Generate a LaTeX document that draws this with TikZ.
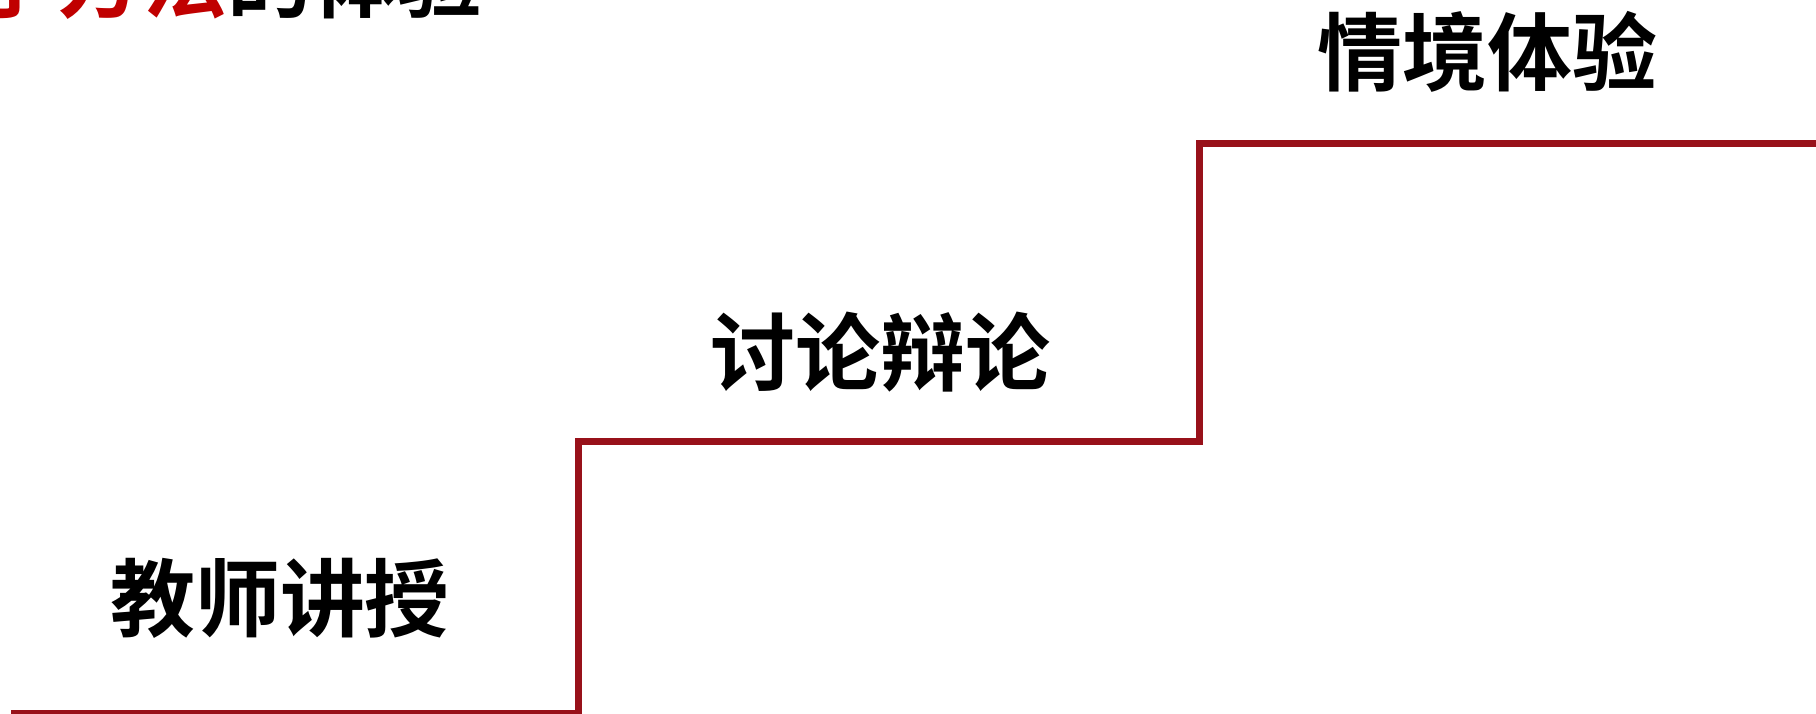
\documentclass[tikz,border=0pt]{standalone}
\usepackage{fontspec}
\newfontfamily\cjkbold{Noto Sans CJK SC Bold}
\definecolor{stairred}{HTML}{98111A}
\definecolor{titlered}{HTML}{C00000}
\begin{document}
\begin{tikzpicture}[x=1pt,y=-1pt,
  steplabel/.style={inner sep=0pt,anchor=base,font=\cjkbold\fontsize{85}{100}\selectfont},
  stairline/.style={draw=stairred,line width=7pt}]
\useasboundingbox (0,0) rectangle (1816,714);
\node[steplabel,anchor=base east] (title) at (483,12) {\textcolor{titlered}{教学方法}的体验};
\node[steplabel] (s1) at (280,630) {教师讲授};
\node[steplabel] (s2) at (880,384) {讨论辩论};
\node[steplabel] (s3) at (1487,85) {情境体验};
\coordinate (p0) at (11,713.5);
\coordinate (p1) at (578.5,713.5);
\coordinate (p2) at (578.5,441.5);
\coordinate (p3) at (1199.5,441.5);
\coordinate (p4) at (1199.5,144);
\coordinate (p5) at (1820,144);
\draw[stairline] (p0) -- (p1) -- (p2) -- (p3) -- (p4) -- (p5);
\end{tikzpicture}
\end{document}
